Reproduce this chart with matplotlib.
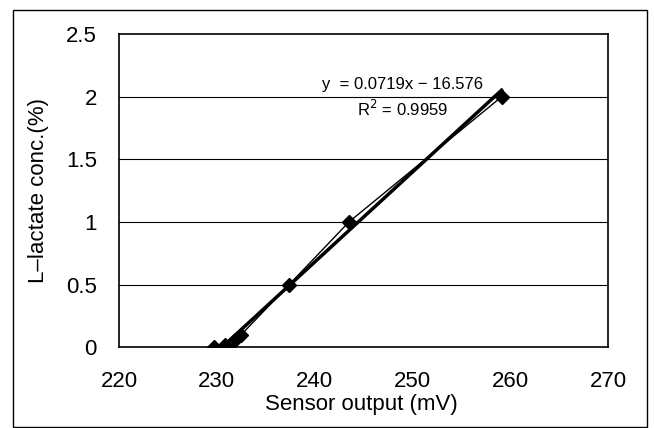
import matplotlib.pyplot as plt
from matplotlib.patches import Rectangle

plt.rcParams['font.family'] = ['Liberation Sans', 'DejaVu Sans']

sensor_mv = [229.7, 230.8, 231.8, 232.5, 237.4, 243.5, 259.1]
lactate_pct = [0.0, 0.02, 0.05, 0.1, 0.5, 1.0, 2.0]
slope, intercept = 0.0719, -16.576
xticks = [220, 230, 240, 250, 260, 270]
yticks = [0, 0.5, 1, 1.5, 2, 2.5]
ylabels = ['0', '0.5', '1', '1.5', '2', '2.5']

fig = plt.figure(figsize=(6.54, 4.28), dpi=100)
ax = fig.add_axes([0.182, 0.189, 0.748, 0.731])

fig.patches.append(Rectangle((0.02, 0.003), 0.969, 0.974, transform=fig.transFigure,
                             fill=False, edgecolor='black', linewidth=1.0))

for y in yticks[1:-1]:
    ax.axhline(y, color='black', linewidth=0.8, zorder=1)

ax.plot(sensor_mv, lactate_pct, color='black', linewidth=1.0, marker='D', markersize=7, zorder=3)
xfit = [min(sensor_mv), max(sensor_mv)]
yfit = [slope * x + intercept for x in xfit]
ax.plot(xfit, yfit, color='black', linewidth=2.5, zorder=2)

ax.text(249.0, 2.10, 'y  = 0.0719x \u2212 16.576', ha='center', va='center', fontsize=12)
ax.text(249.0, 1.90, 'R$^2$ = 0.9959', ha='center', va='center', fontsize=12)

ax.set_xlim(220, 270)
ax.set_ylim(0, 2.5)
ax.set_xticks(xticks)
ax.set_yticks(yticks)
ax.set_yticklabels(ylabels)
ax.tick_params(axis='x', labelsize=16, length=0, pad=17)
ax.tick_params(axis='y', labelsize=16, length=0, pad=16)
ax.set_xlabel('Sensor output (mV)', fontsize=16, va='center')
ax.xaxis.set_label_coords(0.495, -0.185)
ax.set_ylabel('L\u2013lactate conc.(%)', fontsize=16, va='center')
ax.yaxis.set_label_coords(-0.165, 0.5)
for s in ax.spines.values():
    s.set_linewidth(1.2)

fig.savefig('out.png', dpi=100)
